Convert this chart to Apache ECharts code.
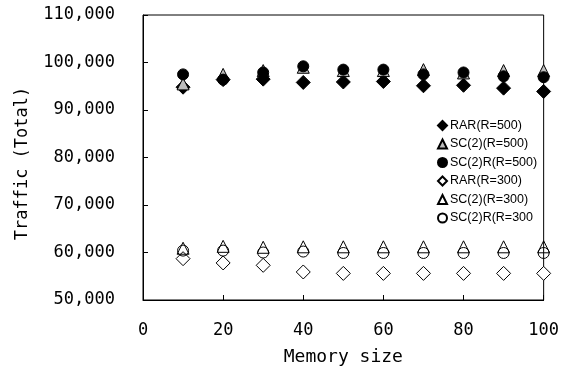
<!DOCTYPE html>
<html>
<head>
<meta charset="utf-8">
<script src="https://cdn.jsdelivr.net/npm/echarts@6/dist/echarts.min.js"></script>
<style>html,body{margin:0;padding:0;background:#fff}#c{width:562px;height:371px}</style>
</head>
<body>
<div id="c"></div>
<script>
const memorySize = [10, 20, 30, 40, 50, 60, 70, 80, 90, 100];
const rar500   = [94800, 96400, 96500, 95800, 95900, 96000, 95100, 95200, 94600, 93900];
const sc2_500  = [95500, 97500, 98300, 99000, 98300, 98300, 98500, 97800, 98300, 98300];
const sc2r500  = [97500, 96400, 97900, 99200, 98500, 98500, 97500, 97900, 97100, 96900];
const rar300   = [58700, 57800, 57300, 55900, 55600, 55600, 55600, 55600, 55600, 55600];
const sc2_300  = [60900, 61300, 61100, 61200, 61200, 61200, 61200, 61200, 61200, 61200];
const sc2r300  = [60400, 60400, 60000, 60200, 59900, 59900, 59900, 59900, 59900, 59900];
const seriesNames = ['RAR(R=500)', 'SC(2)(R=500)', 'SC(2)R(R=500)', 'RAR(R=300)', 'SC(2)(R=300)', 'SC(2)R(R=300'];
const yTicks = [50000, 60000, 70000, 80000, 90000, 100000, 110000];

function pairs(ys) { return memorySize.map((x, i) => [x, ys[i]]); }
function fmt(v) { return String(v).replace(/\B(?=(\d{3})+(?!\d))/g, ','); }

const mono = 'DejaVu Sans Mono';
const chart = echarts.init(document.getElementById('c'));
const specs = [
  {data: rar500, symbol: 'diamond', size: 14, color: '#000', border: '#000'},
  {data: sc2_500, symbol: 'triangle', size: 12, color: '#bdbdbd', border: '#000'},
  {data: sc2r500, symbol: 'circle', size: 11, color: '#000', border: '#000'},
  {data: rar300, symbol: 'diamond', size: 14, color: '#fff', border: '#000'},
  {data: sc2_300, symbol: 'triangle', size: 12, color: 'rgba(255,255,255,0)', border: '#000'},
  {data: sc2r300, symbol: 'circle', size: 11, color: 'rgba(255,255,255,0)', border: '#000'}
];
chart.setOption({
  animation: false,
  grid: {left: 143, right: 17, top: 15, bottom: 69, show: true, borderColor: '#000', borderWidth: 1, backgroundColor: 'transparent'},
  legend: {
    orient: 'vertical', left: 432, top: 114, itemWidth: 9, itemHeight: 9, itemGap: 5.5,
    data: seriesNames,
    textStyle: {fontFamily: 'Liberation Sans', fontSize: 12.5, color: '#000', padding: [0, 0, 0, -2]}
  },
  xAxis: {
    type: 'value', min: 0, max: 100, interval: 20,
    name: 'Memory size', nameLocation: 'middle', nameGap: 48,
    nameTextStyle: {fontFamily: mono, fontSize: 18, color: '#000'},
    axisLine: {show: true, lineStyle: {color: '#000', width: 1}},
    axisTick: {show: true, inside: true, length: 5, lineStyle: {color: '#000'}},
    axisLabel: {margin: 22, fontFamily: mono, fontSize: 17, color: '#000'},
    splitLine: {show: false}
  },
  yAxis: {
    type: 'value', min: 50000, max: 110000, interval: 10000,
    name: 'Traffic (Total)', nameLocation: 'middle', nameGap: 112,
    nameTextStyle: {fontFamily: mono, fontSize: 17, color: '#000', padding: [0, 12, 0, 0]},
    axisLine: {show: true, lineStyle: {color: '#000', width: 1}},
    axisTick: {show: true, inside: true, length: 5, lineStyle: {color: '#000'}},
    axisLabel: {margin: 28, fontFamily: mono, fontSize: 17, color: '#000', formatter: v => fmt(v)},
    splitLine: {show: false}
  },
  series: specs.map((s, i) => ({
    name: seriesNames[i], type: 'scatter', symbol: s.symbol, symbolSize: s.size,
    data: pairs(s.data),
    itemStyle: {color: s.color, borderColor: s.border, borderWidth: 1, opacity: 1}
  }))
});
</script>
</body>
</html>
